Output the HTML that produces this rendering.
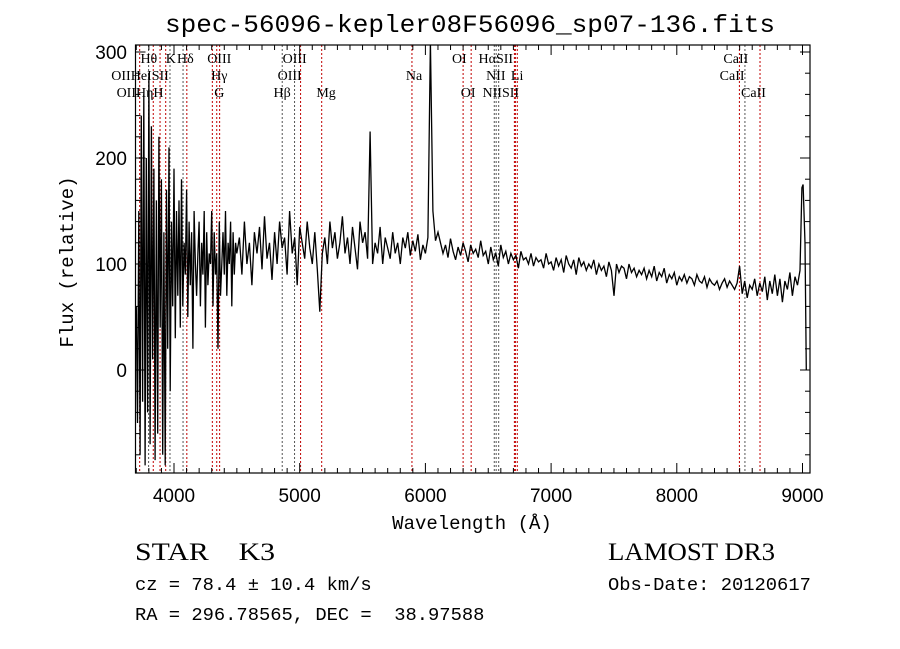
<!DOCTYPE html>
<html><head><meta charset="utf-8"><style>
html,body{margin:0;padding:0;background:#fff;}
svg{display:block;}
.t{font-family:"Liberation Sans",sans-serif;}
.s{font-family:"Liberation Serif",serif;}
.m{font-family:"Liberation Mono",monospace;}
</style></head><body>
<svg id="chart" width="900" height="649" viewBox="0 0 900 649">
<rect width="900" height="649" fill="#fff"/>
<text class="m" x="470" y="32" font-size="25" text-anchor="middle" textLength="610" lengthAdjust="spacingAndGlyphs">spec-56096-kepler08F56096_sp07-136.fits</text>
<defs><clipPath id="pc"><rect x="135.5" y="45" width="674.5" height="428"/></clipPath></defs>
<g id="lines" clip-path="url(#pc)"></g>
<g id="labels"></g>
<g id="spec" clip-path="url(#pc)"></g>
<rect x="135.5" y="45" width="674.5" height="428" fill="none" stroke="#000" stroke-width="1.2"/>
<g id="axes"></g>
<text class="m" x="472" y="529" font-size="19" text-anchor="middle">Wavelength (Å)</text>
<text class="m" x="73" y="262" font-size="19" text-anchor="middle" transform="rotate(-90 73 262)">Flux (relative)</text>
<text class="s" x="135" y="560" font-size="25" textLength="140" lengthAdjust="spacingAndGlyphs" xml:space="preserve">STAR    K3</text>
<text class="s" x="608" y="560" font-size="25" textLength="167" lengthAdjust="spacingAndGlyphs">LAMOST DR3</text>
<text class="m" x="135" y="590" font-size="18.8">cz = 78.4 ± 10.4 km/s</text>
<text class="m" x="608" y="590" font-size="18.8">Obs-Date: 20120617</text>
<text class="m" x="135" y="620" font-size="18.8" xml:space="preserve">RA = 296.78565, DEC =  38.97588</text>
</svg>
<script>
const xTicks=[4000,5000,6000,7000,8000,9000];
const yTicks=[0,100,200,300];
const lineWaves=[3727,3798,3835,3889,3934,3968,4072,4102,4305,4340,4363,4861,4959,5007,5175,5893,6300,6364,6548,6563,6583,6708,6716,6731,8498,8542,8662];
const lineRed=[1,0,1,1,1,0,0,1,1,1,1,0,0,1,1,1,1,1,0,0,0,1,1,1,1,0,1];
const labelText=["Hθ","K","Hδ","OIII","OIII","OI","HαSII","CaII","OIIHeISII","Hγ","OIII","Na","NII","Li","CaII","OIIHηH","G","Hβ","Mg","OI","NIISII","CaII"];
const labelWave=[3800,3975,4090,4360,4960,6270,6560,8470,3730,4360,4920,5910,6560,6730,8440,3730,4360,4860,5210,6340,6600,8610];
const labelRow=[0,0,0,0,0,0,0,0,1,1,1,1,1,1,1,2,2,2,2,2,2,2];
const blueFlux=[60,-50,150,-80,240,-30,260,-90,200,-40,280,-70,230,10,190,-85,160,-60,220,40,180,-80,130,-90,170,20,210,-20,140,60,190,30,150,70,160,40,180,60,120,90,170,50,140,80,130,20,150,100,70,110,140,60,120,90,150,40,130,80,110,100,150,60,130,90,110,20,140,70,100,130,90,150,70,120,100,140,60,130,90,120,110];
const midFlux=[125,90,140,100,120,80,130,110,135,95,145,105,120,85,130,100,140,115,125,90,150,110,125,80,135,120,105,140,115,100,130,95,55,110,125,100,140,115,130,105,120,145,110,125,100,135,115,95,140,120,130,105,225,100,120,110,135,100,125,115,105,130,110,120,100,125,115,130,108,122,112,128,104,118,110,125,310,150,122,130];
const redFlux=[120,110,118,106,124,112,104,116,108,120,112,102,118,110,114,106,122,108,112,100,
116,104,110,98,118,106,112,100,110,104,108,96,112,104,106,100,110,98,106,102,
104,96,110,100,102,94,106,98,104,92,108,100,96,104,90,106,98,102,94,100,
96,104,90,100,94,98,88,102,94,70,100,92,98,96,86,100,92,96,88,94,
90,96,86,94,88,98,84,92,88,96,82,90,86,92,80,88,84,90,82,88,
86,80,90,84,82,88,78,86,82,80,84,76,82,86,78,84,80,76,82,98,
72,84,68,80,76,86,70,82,74,88,66,84,72,90,70,86,64,84,76,92,
70,88,80,94];
const tailWave=[8995,9005,9020,9030];
const tailFlux=[172,175,120,0];

const NS="http://www.w3.org/2000/svg";
const L=135.5,R=810,T=45,B=473;
const xS=w=>174+(w-4000)*0.1257;
const yS=f=>370-1.06*f;
function mk(tag,attrs,parent){const e=document.createElementNS(NS,tag);for(const k in attrs)e.setAttribute(k,attrs[k]);parent.appendChild(e);return e;}
const axes=document.getElementById('axes');
for(let w=3700;w<=9000;w+=100){
  const x=xS(w);if(x<L||x>R)continue;
  const major=w%1000===0;const len=major?10:5;
  const a=mk('line',{x1:x,x2:x,y1:B,y2:B-len,stroke:'#000','stroke-width':1},axes);
  
  
  const b=mk('line',{x1:x,x2:x,y1:T,y2:T+len,stroke:'#000','stroke-width':1},axes);
  
  
}
xTicks.forEach(v=>{
  const t=mk('text',{x:xS(v),y:502,'font-size':19,'text-anchor':'middle',class:'t'},axes);t.textContent=v;
  
  
});
for(let f=-80;f<=300;f+=20){
  const y=yS(f);if(y<T||y>B)continue;
  const len=f%100===0?10:5;
  const a=mk('line',{x1:L,x2:L+len,y1:y,y2:y,stroke:'#000','stroke-width':1},axes);
  
  
  const b=mk('line',{x1:R,x2:R-len,y1:y,y2:y,stroke:'#000','stroke-width':1},axes);
  
  
}
yTicks.forEach(v=>{
  const t=mk('text',{x:127,y:yS(v)+7,'font-size':19,'text-anchor':'end',class:'t'},axes);t.textContent=v;
  
  
});
const lg=document.getElementById('lines');
lineWaves.forEach((w,i)=>{
  const x=xS(w);
  const l=mk('line',{x1:x,x2:x,y1:T,y2:B,stroke:lineRed[i]?'#c00000':'#555','stroke-width':1,'stroke-dasharray':'2,2'},lg);
  
  
});
const lb=document.getElementById('labels');
labelText.forEach((s,i)=>{
  const t=mk('text',{x:xS(labelWave[i]),y:63+labelRow[i]*17,'font-size':14,'text-anchor':'middle',class:'s'},lb);t.textContent=s;
  
  
});
const waves=[],flux=[];
blueFlux.forEach((f,i)=>{waves.push(3700+10*i);flux.push(f);});
midFlux.forEach((f,i)=>{waves.push(4520+20*i);flux.push(f);});
redFlux.forEach((f,i)=>{waves.push(6120+20*i);flux.push(f);});
tailFlux.forEach((f,i)=>{waves.push(tailWave[i]);flux.push(f);});
let d='';
waves.forEach((w,i)=>{d+=(i?'L':'M')+xS(w).toFixed(1)+','+yS(flux[i]).toFixed(1);});
const p=mk('path',{d:d,fill:'none',stroke:'#000','stroke-width':1.3},document.getElementById('spec'));


</script>
</body></html>
